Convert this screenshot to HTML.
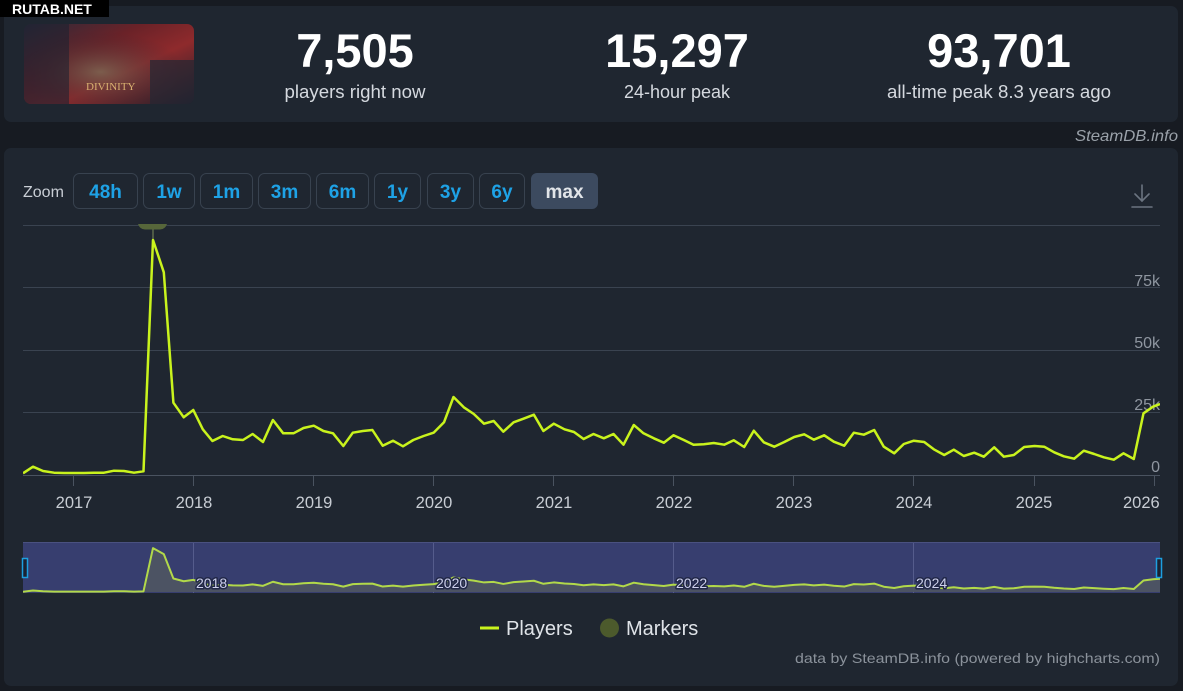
<!DOCTYPE html>
<html><head><meta charset="utf-8"><style>
html,body{margin:0;padding:0;background:#171b22;width:1183px;height:691px;overflow:hidden;}
svg{display:block;font-family:"Liberation Sans",sans-serif;}
</style></head><body>
<svg width="1183" height="691" viewBox="0 0 1183 691" xmlns="http://www.w3.org/2000/svg">
<defs>
<linearGradient id="gimg" x1="0" y1="0" x2="1" y2="1">
<stop offset="0" stop-color="#2a2b3a"/><stop offset="0.35" stop-color="#6a2228"/><stop offset="0.6" stop-color="#8e2a2c"/><stop offset="1" stop-color="#1c1f2a"/>
</linearGradient>
<radialGradient id="gimg2" cx="0.45" cy="0.6" r="0.5">
<stop offset="0" stop-color="#7a6a55" stop-opacity="0.8"/><stop offset="1" stop-color="#3a2530" stop-opacity="0"/>
</radialGradient>
<clipPath id="imgclip"><rect x="24" y="24" width="170" height="80" rx="7"/></clipPath>
<clipPath id="plotclip"><rect x="23" y="200" width="1137" height="276"/></clipPath>
<clipPath id="navclip"><rect x="23" y="542" width="1137" height="51"/></clipPath>
<clipPath id="xlabclip"><rect x="0" y="480" width="1160" height="40"/></clipPath>
</defs>
<rect width="1183" height="691" fill="#171b22"/>
<!-- top panel -->
<rect x="4" y="6" width="1174" height="116" rx="7" fill="#1f2630"/>
<g clip-path="url(#imgclip)">
<rect x="24" y="24" width="170" height="80" fill="url(#gimg)"/>
<rect x="24" y="24" width="170" height="80" fill="url(#gimg2)"/>
<rect x="24" y="24" width="45" height="80" fill="#1d2230" opacity="0.6"/>
<rect x="150" y="60" width="44" height="44" fill="#232633" opacity="0.7"/>
<text x="86" y="90" font-family="Liberation Serif,serif" font-size="11" fill="#d8b070">DIVINITY</text>
</g>
<rect x="0" y="0" width="109" height="17" fill="#000"/>
<text x="12" y="14" font-size="14" font-weight="bold" fill="#fff">RUTAB.NET</text>

<text x="355" y="67" text-anchor="middle" font-size="47" font-weight="bold" fill="#ffffff">7,505</text>
<text x="355" y="98" text-anchor="middle" font-size="18" fill="#d5d9df" textLength="141" lengthAdjust="spacingAndGlyphs">players right now</text>
<text x="677" y="67" text-anchor="middle" font-size="47" font-weight="bold" fill="#ffffff">15,297</text>
<text x="677" y="98" text-anchor="middle" font-size="18" fill="#d5d9df">24-hour peak</text>
<text x="999" y="67" text-anchor="middle" font-size="47" font-weight="bold" fill="#ffffff">93,701</text>
<text x="999" y="98" text-anchor="middle" font-size="18" fill="#d5d9df" textLength="224" lengthAdjust="spacingAndGlyphs">all-time peak 8.3 years ago</text>

<text x="1178" y="141" text-anchor="end" font-size="16" font-style="italic" fill="#9aa1a9" textLength="103" lengthAdjust="spacingAndGlyphs">SteamDB.info</text>

<!-- chart panel -->
<rect x="4" y="148" width="1174" height="538" rx="7" fill="#1f2630"/>

<text x="23" y="197" font-size="16" fill="#c9ced5">Zoom</text>
<g font-size="19" font-weight="bold" text-anchor="middle" fill="#1ea2e6">
<rect x="73.5" y="173.5" width="64" height="35" rx="6" fill="none" stroke="#38424f"/>
<text x="105.5" y="198">48h</text>
<rect x="143.5" y="173.5" width="51" height="35" rx="6" fill="none" stroke="#38424f"/>
<text x="169" y="198">1w</text>
<rect x="200.5" y="173.5" width="52" height="35" rx="6" fill="none" stroke="#38424f"/>
<text x="226.5" y="198">1m</text>
<rect x="258.5" y="173.5" width="52" height="35" rx="6" fill="none" stroke="#38424f"/>
<text x="284.5" y="198">3m</text>
<rect x="316.5" y="173.5" width="52" height="35" rx="6" fill="none" stroke="#38424f"/>
<text x="342.5" y="198">6m</text>
<rect x="374.5" y="173.5" width="46" height="35" rx="6" fill="none" stroke="#38424f"/>
<text x="397.5" y="198">1y</text>
<rect x="427.5" y="173.5" width="46" height="35" rx="6" fill="none" stroke="#38424f"/>
<text x="450.5" y="198">3y</text>
<rect x="479.5" y="173.5" width="45" height="35" rx="6" fill="none" stroke="#38424f"/>
<text x="502" y="198">6y</text>
<rect x="531" y="173" width="67" height="36" rx="6" fill="#3c4a5f"/>
<text x="564.5" y="198" fill="#e2e5e9">max</text>
</g>

<!-- download icon -->
<g stroke="#6b7480" stroke-width="1.6" fill="none" stroke-linecap="round">
<line x1="1142" y1="185" x2="1142" y2="201"/>
<polyline points="1135,194 1142,201 1149,194"/>
<line x1="1132" y1="207" x2="1152" y2="207"/>
</g>

<!-- grid -->
<g stroke="#3a4350" stroke-width="1">
<line x1="23" y1="225.5" x2="1160" y2="225.5"/>
<line x1="23" y1="287.5" x2="1160" y2="287.5"/>
<line x1="23" y1="350.5" x2="1160" y2="350.5"/>
<line x1="23" y1="412.5" x2="1160" y2="412.5"/>
<line x1="23" y1="475.5" x2="1160" y2="475.5" stroke="#4a5360"/>
</g>
<g stroke="#4a5360" stroke-width="1">
<line x1="73.5" y1="476" x2="73.5" y2="486"/>
<line x1="193.5" y1="476" x2="193.5" y2="486"/>
<line x1="313.5" y1="476" x2="313.5" y2="486"/>
<line x1="433.5" y1="476" x2="433.5" y2="486"/>
<line x1="553.5" y1="476" x2="553.5" y2="486"/>
<line x1="673.5" y1="476" x2="673.5" y2="486"/>
<line x1="793.5" y1="476" x2="793.5" y2="486"/>
<line x1="913.5" y1="476" x2="913.5" y2="486"/>
<line x1="1034.5" y1="476" x2="1034.5" y2="486"/>
<line x1="1154.5" y1="476" x2="1154.5" y2="486"/>
</g>
<g font-size="16.5" fill="#c8cdd4" text-anchor="middle" clip-path="url(#xlabclip)">
<text x="74" y="508">2017</text>
<text x="194" y="508">2018</text>
<text x="314" y="508">2019</text>
<text x="434" y="508">2020</text>
<text x="554" y="508">2021</text>
<text x="674" y="508">2022</text>
<text x="794" y="508">2023</text>
<text x="914" y="508">2024</text>
<text x="1034" y="508">2025</text>
<text x="1123" y="508" text-anchor="start">2026</text>
</g>
<g font-size="16" fill="#8f96a0" text-anchor="end">
<text x="1160" y="286">75k</text>
<text x="1160" y="348">50k</text>
<text x="1160" y="410">25k</text>
<text x="1160" y="472">0</text>
</g>

<!-- marker flag -->
<line x1="153" y1="229" x2="153" y2="240" stroke="#7d8c5c" stroke-width="1"/>
<path d="M138,224 L167,224 Q165,229.5 160,229.5 L145,229.5 Q140,229.5 138,224 Z" fill="#56663a"/>

<!-- main series -->
<g clip-path="url(#plotclip)">
<polyline fill="none" stroke="#c9f31d" stroke-width="2.5" stroke-linejoin="round" points="23,473.3 33,466.7 43,471 54,472.7 64,473 74,473 84,473 94,472.7 104,472.7 114,470.7 124,471 134,472.7 143.5,471.3 153,240 163.8,272.3 173.4,402.7 183.7,417.3 193.3,410 202.8,429.3 212.4,441 222.7,436 232.7,439.3 243,440 252.6,434 263,442 272.9,420 283.2,433.3 293.5,433.3 303.5,428 313.8,425.7 323.4,431 333,433.3 343.3,446 352.8,432.7 362.8,431 372.4,430 382.7,445.7 393,440.7 403,446.3 413.3,440 423.6,436 433.6,432.7 444,422.3 453.5,397 463.8,407.3 473.8,414 484,423.7 493.7,421 503.3,431.7 513.6,422.3 523.5,418.7 533.9,414.7 543.4,431 553.8,423.7 564.5,429.3 574,432 583.6,439 593.5,434 603.8,438.3 613.5,434 623.5,444.7 633.8,425 643.5,433.3 653.8,438.3 663.8,442.7 673.5,435.3 683.8,440 693.5,444.7 703.8,444.3 713.8,443 724.2,444.7 733.8,440.3 744.2,447 753.8,430.7 763.8,442.3 774.2,446.7 783.8,442.3 794.2,437 804.2,434.3 813.8,439.7 824.2,435.3 833.8,441.7 844.2,445.7 853.8,432.7 863.8,434.7 874.2,430 883.8,446.7 894.2,453.3 903.8,444 913.8,440.7 924.2,442 933.8,449.3 944.2,455 953.8,449.7 963.8,456 974.2,452.7 983.8,456.7 994.2,447.3 1003.8,456.7 1013.8,455 1024.2,447 1034.6,446 1044.2,446.7 1054.2,452.3 1063.8,456.3 1074.2,458.7 1083.8,450.7 1094.2,454 1103.8,457.3 1113.8,459.7 1123.5,453.3 1133.8,459 1143.5,413.3 1153,406.7 1160,404"/>
</g>

<!-- navigator -->
<rect x="23" y="542" width="1137" height="51" fill="#373e6f"/>
<line x1="23" y1="542.5" x2="1160" y2="542.5" stroke="#4a5180"/>
<g stroke="#555c8c" stroke-width="1">
<line x1="193.5" y1="543" x2="193.5" y2="593"/>
<line x1="433.5" y1="543" x2="433.5" y2="593"/>
<line x1="673.5" y1="543" x2="673.5" y2="593"/>
<line x1="913.5" y1="543" x2="913.5" y2="593"/>
</g>
<g clip-path="url(#navclip)">
<g transform="matrix(1 0 0 0.187 0 503.2)">
<polygon fill="#4d5462" opacity="0.95" points="23,475 23,473.3 33,466.7 43,471 54,472.7 64,473 74,473 84,473 94,472.7 104,472.7 114,470.7 124,471 134,472.7 143.5,471.3 153,240 163.8,272.3 173.4,402.7 183.7,417.3 193.3,410 202.8,429.3 212.4,441 222.7,436 232.7,439.3 243,440 252.6,434 263,442 272.9,420 283.2,433.3 293.5,433.3 303.5,428 313.8,425.7 323.4,431 333,433.3 343.3,446 352.8,432.7 362.8,431 372.4,430 382.7,445.7 393,440.7 403,446.3 413.3,440 423.6,436 433.6,432.7 444,422.3 453.5,397 463.8,407.3 473.8,414 484,423.7 493.7,421 503.3,431.7 513.6,422.3 523.5,418.7 533.9,414.7 543.4,431 553.8,423.7 564.5,429.3 574,432 583.6,439 593.5,434 603.8,438.3 613.5,434 623.5,444.7 633.8,425 643.5,433.3 653.8,438.3 663.8,442.7 673.5,435.3 683.8,440 693.5,444.7 703.8,444.3 713.8,443 724.2,444.7 733.8,440.3 744.2,447 753.8,430.7 763.8,442.3 774.2,446.7 783.8,442.3 794.2,437 804.2,434.3 813.8,439.7 824.2,435.3 833.8,441.7 844.2,445.7 853.8,432.7 863.8,434.7 874.2,430 883.8,446.7 894.2,453.3 903.8,444 913.8,440.7 924.2,442 933.8,449.3 944.2,455 953.8,449.7 963.8,456 974.2,452.7 983.8,456.7 994.2,447.3 1003.8,456.7 1013.8,455 1024.2,447 1034.6,446 1044.2,446.7 1054.2,452.3 1063.8,456.3 1074.2,458.7 1083.8,450.7 1094.2,454 1103.8,457.3 1113.8,459.7 1123.5,453.3 1133.8,459 1143.5,413.3 1153,406.7 1160,404 1160,475"/>
<polyline fill="none" stroke="#b2d94a" stroke-width="2" stroke-linejoin="round" vector-effect="non-scaling-stroke" points="23,473.3 33,466.7 43,471 54,472.7 64,473 74,473 84,473 94,472.7 104,472.7 114,470.7 124,471 134,472.7 143.5,471.3 153,240 163.8,272.3 173.4,402.7 183.7,417.3 193.3,410 202.8,429.3 212.4,441 222.7,436 232.7,439.3 243,440 252.6,434 263,442 272.9,420 283.2,433.3 293.5,433.3 303.5,428 313.8,425.7 323.4,431 333,433.3 343.3,446 352.8,432.7 362.8,431 372.4,430 382.7,445.7 393,440.7 403,446.3 413.3,440 423.6,436 433.6,432.7 444,422.3 453.5,397 463.8,407.3 473.8,414 484,423.7 493.7,421 503.3,431.7 513.6,422.3 523.5,418.7 533.9,414.7 543.4,431 553.8,423.7 564.5,429.3 574,432 583.6,439 593.5,434 603.8,438.3 613.5,434 623.5,444.7 633.8,425 643.5,433.3 653.8,438.3 663.8,442.7 673.5,435.3 683.8,440 693.5,444.7 703.8,444.3 713.8,443 724.2,444.7 733.8,440.3 744.2,447 753.8,430.7 763.8,442.3 774.2,446.7 783.8,442.3 794.2,437 804.2,434.3 813.8,439.7 824.2,435.3 833.8,441.7 844.2,445.7 853.8,432.7 863.8,434.7 874.2,430 883.8,446.7 894.2,453.3 903.8,444 913.8,440.7 924.2,442 933.8,449.3 944.2,455 953.8,449.7 963.8,456 974.2,452.7 983.8,456.7 994.2,447.3 1003.8,456.7 1013.8,455 1024.2,447 1034.6,446 1044.2,446.7 1054.2,452.3 1063.8,456.3 1074.2,458.7 1083.8,450.7 1094.2,454 1103.8,457.3 1113.8,459.7 1123.5,453.3 1133.8,459 1143.5,413.3 1153,406.7 1160,404"/>
</g>
</g>
<g font-size="14" fill="#cdd0ec" stroke="#222848" stroke-width="3" paint-order="stroke" stroke-linejoin="round">
<text x="196" y="588">2018</text>
<text x="436" y="588">2020</text>
<text x="676" y="588">2022</text>
<text x="916" y="588">2024</text>
</g>
<rect x="22.5" y="558.5" width="5" height="19" fill="#1b2232" stroke="#1d9fe0" stroke-width="1.5"/>
<rect x="1156.5" y="558.5" width="5" height="19" fill="#1b2232" stroke="#1d9fe0" stroke-width="1.5"/>

<!-- legend -->
<line x1="480" y1="628" x2="499" y2="628" stroke="#c9f31d" stroke-width="3"/>
<text x="506" y="635" font-size="20" fill="#dfe3e8">Players</text>
<circle cx="609.5" cy="628" r="9.5" fill="#4c5a2c"/>
<text x="626" y="635" font-size="20" fill="#dfe3e8">Markers</text>
<text x="1160" y="663" text-anchor="end" font-size="14" fill="#8b929b" textLength="365" lengthAdjust="spacingAndGlyphs">data by SteamDB.info (powered by highcharts.com)</text>
</svg>
</body></html>
